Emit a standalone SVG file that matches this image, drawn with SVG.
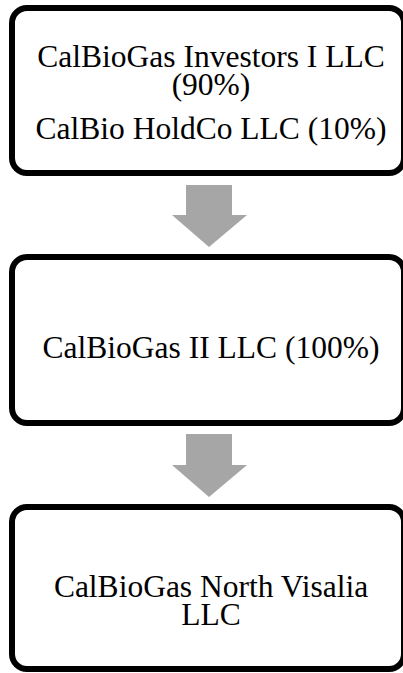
<svg xmlns="http://www.w3.org/2000/svg" width="403" height="673" viewBox="0 0 403 673">
<style>
.box{fill:#ffffff;stroke:#000000;stroke-width:6}
.lbl{font-family:'Liberation Serif','DejaVu Serif',serif;font-size:31.5px;fill:#000000;text-anchor:middle}
.arr{fill:#a6a6a6;stroke:none}
</style>
<rect width="403" height="673" fill="#ffffff"/>
<g id="connectors">
<polygon class="arr" points="186,185 232,185 232,215 247,215 209,247 172,215 186,215"/>
<polygon class="arr" points="186,434 232,434 232,465 247,465 209,497 172,465 186,465"/>
</g>
<g id="node1">
<rect class="box" x="12" y="8" width="392" height="165" rx="15" ry="15"/>
<text class="lbl" font-family="Liberation Serif, DejaVu Serif, serif" x="211" y="67">CalBioGas Investors I LLC</text>
<text class="lbl" font-family="Liberation Serif, DejaVu Serif, serif" x="211" y="95">(90%)</text>
<text class="lbl" font-family="Liberation Serif, DejaVu Serif, serif" x="211" y="139">CalBio HoldCo LLC (10%)</text>
</g>
<g id="node2">
<rect class="box" x="12" y="257" width="392" height="166" rx="15" ry="15"/>
<text class="lbl" font-family="Liberation Serif, DejaVu Serif, serif" x="211" y="358">CalBioGas II LLC (100%)</text>
</g>
<g id="node3">
<rect class="box" x="12" y="507" width="392" height="162" rx="15" ry="15"/>
<text class="lbl" font-family="Liberation Serif, DejaVu Serif, serif" x="211" y="597">CalBioGas North Visalia</text>
<text class="lbl" font-family="Liberation Serif, DejaVu Serif, serif" x="211" y="625">LLC</text>
</g>
</svg>
